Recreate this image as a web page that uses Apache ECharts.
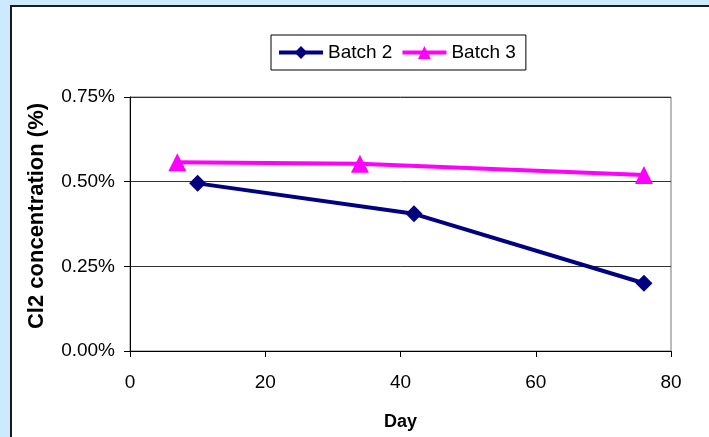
<!DOCTYPE html>
<html>
<head>
<meta charset="utf-8">
<script src="https://cdn.jsdelivr.net/npm/echarts@6/dist/echarts.min.js"></script>
<style>
html,body{margin:0;padding:0;background:#cce9ff;}
#c{width:709px;height:437px;}
</style>
</head>
<body>
<div id="c"></div>
<script>
const seriesNames = ['Batch 2', 'Batch 3'];
const batch2Days = [10, 42, 76];
const batch2Values = [0.495, 0.405, 0.2];
const batch3Days = [7, 34, 76];
const batch3Values = [0.557, 0.553, 0.52];
const yTicks = [0, 0.25, 0.5, 0.75];
const xTicks = [0, 20, 40, 60, 80];

const font = 'Liberation Sans, Arial, sans-serif';
const chart = echarts.init(document.getElementById('c'), null, {renderer: 'canvas'});
chart.setOption({
  animation: false,
  backgroundColor: 'transparent',
  graphic: [{
    type: 'rect', z: -10, silent: true,
    shape: {x: 11, y: 6, width: 720, height: 450},
    style: {fill: '#ffffff', stroke: '#1a1a1a', lineWidth: 2}
  }],
  legend: {
    left: 271, top: 35,
    padding: [8, 10, 8, 6],
    itemGap: 8,
    itemWidth: 44, itemHeight: 16,
    borderColor: '#000', borderWidth: 1,
    backgroundColor: '#fff',
    lineStyle: {width: 4},
    textStyle: {fontFamily: font, fontSize: 19, color: '#000'},
    data: seriesNames
  },
  grid: {left: 130, top: 97, width: 541, height: 254, show: true, borderColor: '#777', borderWidth: 1, backgroundColor: '#fff'},
  xAxis: {
    type: 'value', min: xTicks[0], max: xTicks[xTicks.length-1], interval: 20,
    name: 'Day', nameLocation: 'middle', nameGap: 62,
    nameTextStyle: {fontFamily: font, fontSize: 18, fontWeight: 'bold', color: '#000'},
    axisLine: {show: true, onZero: false, lineStyle: {color: '#000', width: 1}},
    axisTick: {show: true, inside: false, length: 6, lineStyle: {color: '#000'}},
    axisLabel: {fontFamily: font, fontSize: 19, color: '#000', margin: 22},
    splitLine: {show: false}
  },
  yAxis: {
    type: 'value', min: yTicks[0], max: yTicks[yTicks.length-1], interval: 0.25,
    name: 'Cl2 concentration (%)', nameLocation: 'middle', nameGap: 82, nameRotate: 90,
    nameTextStyle: {fontFamily: font, fontSize: 22, fontWeight: 'bold', color: '#000', padding: [0, 0, 0, 16]},
    axisLine: {show: true, onZero: false, lineStyle: {color: '#000', width: 1}},
    axisTick: {show: true, inside: false, length: 6, lineStyle: {color: '#000'}},
    axisLabel: {fontFamily: font, fontSize: 19, color: '#000', margin: 15, formatter: v => v.toFixed(2) + '%'},
    splitLine: {show: true, lineStyle: {color: '#333', width: 1}}
  },
  series: [{
    name: seriesNames[0], type: 'line',
    data: batch2Days.map((d, i) => [d, batch2Values[i]]),
    symbol: 'diamond', symbolSize: 17,
    lineStyle: {color: '#000080', width: 4},
    itemStyle: {color: '#000080'},
    color: '#000080'
  }, {
    name: seriesNames[1], type: 'line',
    data: batch3Days.map((d, i) => [d, batch3Values[i]]),
    symbol: 'triangle', symbolSize: 18,
    lineStyle: {color: '#ff00ff', width: 4},
    itemStyle: {color: '#ff00ff'},
    color: '#ff00ff'
  }]
});
</script>
</body>
</html>
